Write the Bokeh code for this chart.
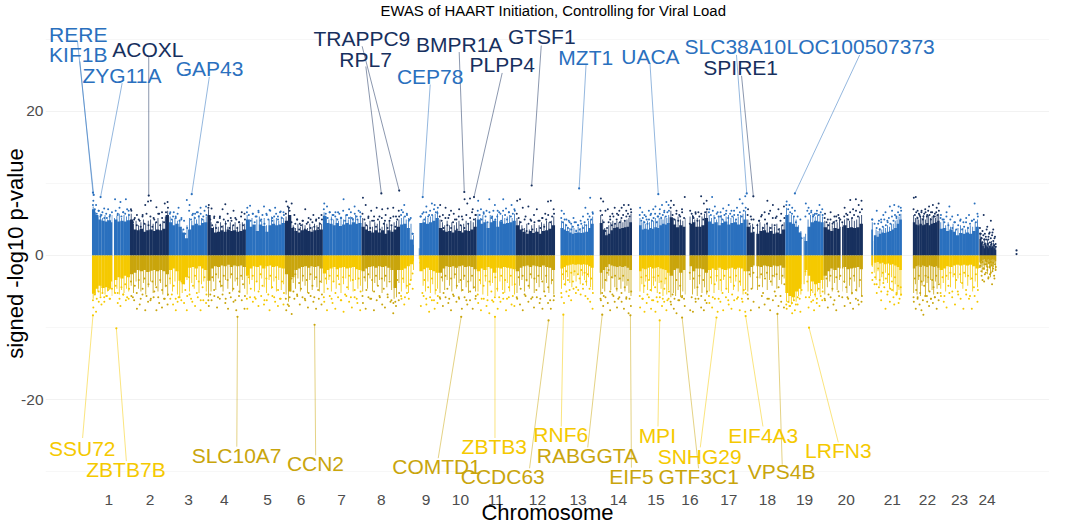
from bokeh.embed import file_html
from bokeh.resources import INLINE
from bokeh.plotting import figure
from bokeh.models import FixedTicker, Range1d
from bokeh.core.properties import value

TITLE = "EWAS of HAART Initiation, Controlling for Viral Load"
CHROM = [str(i) for i in range(1, 25)]
TICK_POS = [108.8,150,188.7,224.5,267.6,301.3,341.6,381.5,426.3,460.7,495.9,537.7,578.4,618.7,656.2,690.3,729.2,767.8,805,846.6,892.8,927.9,960,987.5]
START = [92,130,169,207.5,246,285,323,361.7,400.3,439,477,516,560.7,600,639.3,670,708.3,747,785.7,824,871.7,913.3,940,980]
END = [130,169,207.5,246,285,323,361.7,400.3,439,477,516,555.3,594,632.3,670,708.3,747,785.7,824,863.3,902.3,940,979.3,996.7]
GAPS = [(112.3,114),(414,419),(685.7,690),(755,756.7),(802,804),(841,842.5),(873.3,874.3)]
EXTRA_X = [1017,1017]
EXTRA_Y = [0.7,0.2]

UP_SOLID = [
[6.4,5.6,5.0,4.8,4.7,4.9,4.6,5.0,4.7,4.8,4.7,4.9],[5.0,3.6,3.5,3.7,3.3,3.5,3.6,3.4,3.6,3.5,3.7,5.6],
[4.6,4.2,4.4,4.0,3.2,2.4,3.6,4.2,4.4,4.2,4.5,4.6],[5.6,3.8,3.2,3.3,3.5,3.3,3.6,3.4,3.5,3.3,3.4,3.6],
[5.0,4.0,4.3,3.4,4.3,4.1,3.3,4.2,4.4,4.2,4.3,4.5],[4.8,5.6,3.8,3.4,3.2,3.5,3.6,3.4,3.3,3.5,3.6,3.6],
[5.5,4.5,4.4,4.2,4.5,4.1,4.3,4.5,4.3,4.6,4.4,4.5],[4.0,3.6,3.4,3.2,3.5,3.2,3.5,3.0,3.5,3.3,3.6,4.0],
[4.3,4.4,3.8,2.2,1.5,1.0,4.5,4.6,4.4,4.6,4.8,5.2],[3.8,3.5,3.3,3.4,3.2,3.5,3.4,3.2,3.5,3.4,3.6,4.0],
[5.0,4.4,4.6,3.8,4.6,4.8,4.0,4.7,4.4,4.5,4.6,4.8],[4.2,3.6,3.3,3.0,3.4,3.1,3.3,3.0,3.4,3.5,3.7,4.2],
[3.8,3.6,3.4,3.2,3.0,3.1,3.2,3.1,3.2,3.3,3.8,4.4],[4.5,3.6,2.8,3.0,3.5,3.8,3.9,3.7,3.8,3.9,4.0,4.6],
[4.2,3.6,3.7,3.6,3.8,3.7,3.9,3.8,4.2,4.4,4.3,4.5],[5.3,4.3,3.9,4.2,4.0,3.8,4.4,4.6,4.0,4.0,4.2,5.2],
[4.7,4.4,4.6,4.2,4.5,4.7,4.3,4.5,4.6,4.3,4.5,5.0],[4.0,3.2,3.3,3.0,3.4,3.5,3.2,3.4,3.0,3.2,3.0,3.6],
[5.6,4.6,4.4,4.0,3.2,2.6,2.0,4.0,4.6,4.8,4.7,4.6],[3.9,3.6,3.4,3.8,3.7,4.0,4.2,3.8,3.9,3.8,3.9,4.4],
[3.6,2.8,2.6,3.0,3.2,3.1,3.3,3.4,3.6,3.8,4.4,5.0],[4.6,4.3,4.2,4.4,4.2,4.3,4.5,4.2,4.4,4.5,4.6,4.8],
[3.7,3.8,3.4,3.6,3.3,2.8,3.1,3.0,3.2,3.0,3.4,4.0],[2.3,1.8,1.3,1.0,1.5,1.2,1.0,1.3,1.1,1.2,1.0,0.8]]

LOW_SOLID = [
[-5.3,-4.6,-4.2,-4.5,-4.4,-4.6,-3.6,-3.4,-3.0,-3.2,-2.8,-3.0],[-2.6,-2.4,-2.0,-2.2,-2.0,-2.3,-2.1,-2.0,-2.2,-2.0,-2.2,-2.6],
[-2.0,-1.8,-2.2,-3.5,-4.0,-3.0,-1.7,-1.6,-1.8,-1.5,-1.8,-2.0],[-3.5,-1.8,-1.5,-1.6,-1.4,-1.5,-1.3,-1.6,-1.4,-1.5,-1.4,-1.6],
[-2.8,-1.8,-1.5,-1.6,-1.4,-1.8,-1.5,-1.4,-1.6,-1.5,-1.7,-1.8],[-2.6,-5.0,-3.0,-2.0,-1.8,-1.6,-1.5,-1.7,-1.5,-1.6,-1.5,-1.8],
[-2.5,-2.0,-1.8,-1.6,-1.9,-1.7,-1.6,-1.8,-1.7,-1.6,-1.9,-2.0],[-2.2,-1.8,-1.6,-1.5,-1.7,-1.5,-1.6,-1.5,-1.7,-2.0,-4.5,-2.0],
[-2.0,-1.8,-1.5,-1.2,-0.8,-0.5,-2.2,-1.9,-1.7,-2.0,-2.2,-2.4],[-2.4,-1.8,-1.5,-1.6,-1.5,-1.7,-1.5,-1.4,-1.6,-1.5,-1.6,-1.9],
[-2.2,-1.8,-2.0,-1.6,-1.8,-2.4,-1.7,-1.8,-1.6,-1.7,-1.8,-1.9],[-2.2,-1.7,-1.5,-1.4,-1.6,-1.4,-1.5,-1.6,-1.4,-1.6,-1.7,-2.0],
[-1.8,-1.6,-1.4,-1.3,-1.2,-1.3,-1.2,-1.3,-1.2,-1.3,-1.5,-1.7],[-2.4,-2.0,-1.6,-1.2,-1.4,-1.5,-1.6,-1.5,-1.6,-1.5,-1.7,-2.0],
[-2.2,-1.8,-1.9,-1.7,-1.6,-1.8,-1.7,-1.6,-1.8,-1.9,-2.0,-2.4],[-2.8,-2.0,-1.8,-2.4,-2.0,-1.7,-1.5,-2.2,-1.8,-1.8,-1.9,-2.4],
[-2.0,-1.8,-2.0,-1.7,-1.9,-2.0,-1.8,-1.7,-1.9,-1.7,-1.8,-2.2],[-2.2,-1.6,-1.4,-1.5,-1.6,-1.4,-1.5,-1.6,-1.4,-1.5,-1.4,-1.7],
[-5.2,-5.6,-5.8,-5.0,-4.6,-4.0,-2.0,-2.8,-3.6,-4.0,-3.8,-3.4],[-2.8,-2.2,-1.8,-2.0,-1.7,-1.8,-1.6,-1.9,-1.8,-1.7,-1.6,-1.9],
[-1.4,-1.0,-0.9,-1.1,-1.0,-1.2,-1.1,-1.3,-1.2,-1.4,-1.6,-2.0],[-1.8,-1.5,-1.4,-1.6,-1.4,-1.5,-1.6,-1.4,-1.5,-1.6,-1.5,-1.7],
[-2.0,-1.8,-1.5,-1.6,-1.4,-1.3,-1.4,-1.3,-1.4,-1.3,-1.5,-1.8],[-0.9,-0.8,-0.6,-0.5,-0.8,-0.6,-0.5,-0.7,-0.6,-0.5,-0.6,-0.8]]

UP_STREAK = [
[6.8,6.0,5.4,5.8,5.2,5.6,5.0,5.4,5.6,5.2,5.5,5.8,5.2,5.6,5.4,5.8],[5.8,4.4,4.8,4.2,4.6,5.0,4.4,4.8,5.0,4.4,4.6,5.2,4.4,4.8,5.4,6.2],
[5.4,5.0,5.2,4.8,5.0,3.6,2.8,4.2,5.2,4.8,5.4,5.0,5.6,5.2,5.0,5.4],[6.4,4.6,4.0,4.4,4.0,4.6,4.2,4.8,4.0,4.6,4.2,4.6,4.0,4.4,4.6,4.4],
[5.6,5.0,5.2,4.2,5.0,5.4,4.8,5.2,4.2,5.0,5.4,5.0,5.2,4.8,5.4,5.2],[5.4,6.6,4.8,4.2,3.8,4.4,4.0,4.4,4.2,3.8,4.4,4.0,4.4,4.2,4.6,4.4],
[6.0,5.4,5.0,5.4,5.0,5.2,4.8,5.4,5.0,5.6,5.0,5.4,5.2,5.6,5.0,5.4],[5.2,4.6,4.2,4.8,4.0,4.6,4.4,4.8,4.0,4.6,4.4,4.8,4.2,4.6,4.8,5.0],
[5.2,5.4,5.0,5.2,4.4,2.8,1.8,1.5,1.2,5.0,5.4,5.2,5.4,5.6,5.8,6.2],[5.0,4.6,4.2,4.8,4.2,4.6,4.2,4.6,4.8,4.2,4.4,4.8,4.4,4.8,4.6,5.2],
[5.8,5.2,5.6,5.0,4.6,5.6,5.4,5.0,5.8,4.8,5.6,5.2,5.4,5.6,5.2,5.8],[5.2,4.8,4.2,3.8,4.4,3.6,4.2,4.4,3.8,4.2,4.6,4.4,4.8,4.6,4.8,5.4],
[4.8,4.6,4.4,4.0,3.8,4.2,3.8,3.6,4.0,3.8,4.2,4.4,4.2,4.8,5.0,5.4],[5.6,5.0,3.8,3.6,4.2,4.6,4.8,4.4,4.8,4.6,5.0,4.6,4.8,5.0,5.2,5.8],
[5.2,4.6,4.8,4.4,4.8,4.6,5.0,4.8,5.2,4.8,5.2,5.4,5.0,5.4,5.2,5.6],[6.2,5.2,5.0,5.4,5.0,4.8,5.2,4.6,5.4,5.6,5.0,5.2,5.0,5.4,5.8,6.2],
[5.6,5.2,5.6,5.0,5.4,5.6,5.0,5.4,5.6,5.2,5.4,5.0,5.4,5.6,5.8,6.2],[5.0,4.2,4.4,3.8,4.4,4.6,4.0,4.4,4.6,4.0,4.4,4.0,4.4,3.8,4.2,4.6],
[6.6,5.8,5.6,5.4,5.0,4.2,3.4,2.6,3.0,5.0,5.6,5.8,5.4,5.6,5.8,5.4],[4.8,4.4,4.6,4.2,4.8,4.6,5.0,4.6,5.0,5.2,4.8,5.2,4.8,5.0,5.4,5.6],
[4.6,2.0,3.6,3.4,3.8,3.6,4.0,3.8,4.2,4.0,4.4,4.4,4.8,5.0,5.4,5.8],[5.6,5.2,5.4,5.0,5.4,5.2,5.6,5.0,5.4,5.6,5.2,5.4,5.6,5.2,5.6,5.8],
[4.6,4.8,4.2,4.6,4.0,4.4,3.6,3.8,4.2,3.8,3.6,4.0,4.2,4.0,4.6,5.0],[3.2,2.6,2.0,1.6,2.4,1.8,1.4,2.2,1.8,1.4,1.6,2.0,1.4,1.8,1.6,1.2]]

LOW_STREAK = [
[-6.0,-5.4,-5.0,-5.6,-5.2,-5.4,-5.0,-4.8,-5.6,-5.2,-4.6,-5.4,-4.8,-5.2,-4.6,-5.0],[-4.2,-5.2,-3.6,-4.6,-5.0,-3.8,-5.4,-4.4,-3.6,-5.2,-4.2,-5.0,-3.8,-5.4,-4.4,-5.6],
[-4.0,-5.0,-3.6,-5.4,-5.8,-5.2,-4.0,-3.4,-5.0,-3.8,-4.6,-3.4,-5.2,-4.0,-3.6,-5.0],[-5.8,-5.0,-3.6,-4.8,-3.2,-4.4,-5.0,-3.4,-4.6,-3.2,-5.0,-3.6,-4.2,-5.2,-3.4,-4.6],
[-5.4,-4.0,-3.4,-5.0,-3.6,-4.8,-3.2,-4.4,-5.2,-3.4,-4.6,-3.6,-5.0,-3.4,-4.8,-4.0],[-5.4,-6.4,-5.0,-3.8,-4.6,-3.2,-5.0,-3.6,-4.2,-5.2,-3.4,-4.8,-3.4,-4.4,-5.0,-3.8],
[-5.2,-4.0,-3.4,-5.0,-3.6,-4.6,-3.4,-5.2,-4.0,-3.2,-4.8,-3.6,-5.0,-3.4,-4.6,-4.2],[-5.0,-3.6,-4.6,-3.2,-5.0,-3.8,-4.2,-3.4,-5.2,-3.6,-4.4,-3.4,-4.8,-6.0,-5.8,-3.8],
[-5.0,-3.8,-4.6,-5.2,-3.4,-2.0,-1.2,-1.0,-0.8,-4.2,-5.0,-3.6,-5.2,-4.0,-5.4,-4.6],[-5.2,-3.6,-4.8,-3.4,-4.2,-5.0,-3.2,-4.6,-3.8,-5.0,-3.4,-4.4,-5.2,-3.6,-4.6,-5.0],
[-5.0,-4.0,-5.4,-3.6,-5.6,-4.2,-3.8,-5.6,-5.0,-3.6,-4.8,-5.2,-3.8,-5.0,-4.2,-5.4],[-5.2,-4.2,-3.4,-5.0,-3.6,-4.6,-3.2,-5.2,-3.8,-4.4,-3.4,-5.0,-3.8,-5.2,-4.0,-5.4],
[-4.6,-3.4,-4.2,-3.0,-3.8,-4.4,-2.8,-3.6,-2.6,-4.0,-2.8,-3.4,-4.2,-3.0,-4.4,-4.8],[-5.4,-4.6,-5.0,-3.6,-2.8,-4.8,-3.2,-4.4,-5.0,-3.4,-4.6,-3.6,-5.0,-4.2,-5.2,-5.6],
[-5.0,-4.0,-5.2,-3.6,-4.8,-3.4,-5.0,-4.2,-3.6,-5.2,-3.8,-4.6,-5.6,-4.0,-5.4,-4.8],[-5.8,-5.2,-5.6,-4.8,-5.8,-5.0,-5.4,-3.6,-3.4,-5.4,-4.6,-5.6,-4.0,-5.2,-4.4,-5.4],
[-5.0,-4.0,-5.2,-3.6,-4.8,-5.0,-3.4,-4.6,-5.2,-3.8,-4.8,-3.6,-5.0,-4.2,-5.4,-4.8],[-5.0,-3.0,-4.6,-3.4,-4.8,-3.2,-4.4,-3.0,-4.8,-3.4,-4.2,-3.0,-4.6,-3.4,-4.0,-3.2],
[-6.4,-6.6,-6.8,-6.2,-6.4,-5.6,-5.4,-3.0,-2.8,-5.0,-5.6,-5.2,-5.8,-5.0,-5.4,-4.6],[-5.4,-4.4,-3.6,-5.0,-3.8,-4.8,-3.4,-5.0,-3.8,-5.2,-4.2,-5.4,-3.6,-5.0,-4.4,-5.6],
[-1.6,-2.4,-3.4,-2.2,-4.2,-3.0,-3.6,-2.4,-3.8,-4.6,-3.0,-5.0,-4.0,-5.4,-4.8,-5.6],[-5.2,-4.0,-5.4,-3.4,-5.6,-4.2,-3.6,-5.6,-3.8,-5.0,-3.4,-4.8,-5.4,-3.6,-4.6,-3.8],
[-4.6,-3.8,-5.0,-3.4,-4.4,-3.0,-4.6,-3.2,-3.8,-4.6,-3.0,-4.2,-3.4,-5.0,-3.6,-4.4],[-1.0,-1.6,-2.4,-1.4,-2.0,-1.0,-1.6,-2.6,-1.2,-1.8,-3.0,-1.4,-2.2,-1.6,-1.0,-2.0]]

UP_PTS = [
[7.6,7.0,6.2,5.6,6.5,5.2,5.4,6.6,7.8,5.8,7.4,6.0,7.8,6.2],[6.2,5.0,5.6,4.8,5.4,7.0,7.5,7.6,5.2,6.7,5.8,6.0,7.2,7.4],
[6.0,5.4,5.2,6.6,5.0,4.8,7.7,7.0,5.6,5.8,6.0,6.6,5.4,6.8],[7.0,6.5,5.4,4.6,5.2,6.4,7.1,4.8,5.2,6.2,5.0,4.6,6.0,5.8],
[6.6,6.9,5.8,5.4,6.2,5.0,6.8,5.6,6.3,5.2,6.6,5.4,6.1,6.0],[7.5,6.6,7.2,5.6,5.0,4.4,4.8,6.4,4.6,5.0,5.6,4.8,5.2,5.6],
[7.2,6.8,6.0,5.6,5.4,6.0,5.2,7.8,5.6,6.4,5.2,6.8,5.0,6.0],[8.0,7.0,5.4,6.2,4.8,6.6,5.4,6.4,4.8,6.5,5.2,6.6,5.4,6.2],
[6.3,7.0,5.6,5.0,3.0,3.0,7.0,5.4,6.0,6.8,5.6,7.2,7.0,5.9],[7.0,5.6,6.6,5.2,6.2,5.8,5.0,6.4,5.4,7.8,7.2,7.9,6.4,5.6],
[7.6,6.4,5.8,6.2,7.8,5.4,7.0,6.2,5.8,7.8,6.5,6.0,7.0,6.4],[7.6,7.8,6.6,5.4,6.8,4.8,5.6,6.4,4.8,5.2,5.8,7.5,7.6,6.4],
[6.2,5.8,5.0,4.8,4.4,5.2,4.6,4.2,4.8,5.4,6.6,5.8,8.0,6.0],[7.9,7.5,6.2,6.4,5.4,5.8,6.6,5.8,6.2,6.6,7.0,6.2,7.0,6.4],
[6.6,6.0,5.6,5.0,6.2,5.8,6.4,6.8,5.4,6.4,7.0,6.0,7.4,7.0],[7.6,7.0,6.2,5.6,6.4,8.1,6.0,6.2,5.4,5.8,6.0,8.2,7.2,7.6],
[6.4,8.1,6.8,6.0,5.4,6.5,5.8,7.0,6.2,5.6,6.6,7.8,7.2,8.2],[6.4,5.4,5.0,6.2,4.8,5.6,6.0,7.6,6.2,7.0,5.2,6.4,5.8,6.8],
[7.5,7.0,6.6,6.2,5.4,5.0,5.8,7.2,6.6,6.2,5.6,5.8,7.0,6.4],[5.8,5.0,6.0,4.6,5.4,5.2,6.0,6.6,5.6,7.7,6.4,7.8,7.0,7.6],
[5.0,4.4,6.2,4.8,5.0,5.6,6.0,4.6,6.8,6.2,7.0,5.4,6.8,6.6],[8.0,8.1,6.2,5.6,6.0,5.4,6.4,5.6,6.8,6.0,7.0,5.4,6.6,7.2],
[5.6,5.0,6.0,6.8,5.4,4.6,5.6,5.0,4.6,5.2,5.6,4.8,7.2,5.8],[3.0,2.4,3.4,5.6,3.0,2.2,4.0,2.6,3.2,4.8,2.8,3.6,2.4,1.6]]

LOW_PTS = [
[-7.2,-7.8,-6.4,-6.8,-5.8,-5.6,-6.0,-7.0,-5.2,-6.6,-7.0,-5.4,-6.2,-6.0],[-5.6,-6.2,-7.4,-6.8,-5.4,-7.6,-6.4,-6.0,-5.8,-7.6,-6.6,-7.2,-6.0,-6.8],
[-6.0,-6.8,-7.6,-5.8,-6.2,-6.6,-7.6,-5.4,-6.4,-7.0,-5.8,-7.6,-6.2,-6.6],[-7.0,-6.2,-5.6,-7.2,-6.0,-5.4,-6.6,-7.4,-5.8,-6.4,-7.6,-5.6,-6.2,-7.4],
[-7.4,-5.8,-6.4,-6.0,-7.0,-5.6,-6.8,-6.2,-7.6,-5.6,-6.4,-7.0,-6.0,-6.8],[-7.6,-7.0,-8.1,-6.0,-5.4,-6.8,-5.8,-6.2,-7.2,-5.6,-6.4,-7.4,-6.0,-6.8],
[-6.4,-7.6,-5.6,-6.6,-7.4,-5.8,-6.2,-7.8,-5.6,-6.4,-7.2,-5.8,-6.6,-7.6],[-6.6,-7.4,-5.8,-6.0,-7.6,-6.2,-5.6,-6.8,-7.2,-5.8,-6.4,-8.0,-7.0,-6.2],
[-6.0,-6.8,-5.2,-4.0,-2.5,-2.5,-6.2,-7.0,-5.6,-6.8,-7.8,-6.2,-7.4,-6.6],[-6.0,-7.0,-5.8,-6.6,-7.6,-5.6,-6.4,-6.0,-7.4,-5.8,-6.8,-6.2,-7.4,-6.0],
[-6.6,-7.6,-6.0,-7.0,-8.0,-6.2,-5.8,-7.4,-6.4,-6.0,-7.6,-5.8,-6.8,-7.0],[-6.0,-6.8,-7.6,-5.6,-6.4,-6.0,-7.2,-5.8,-6.6,-7.4,-5.6,-6.6,-7.4,-6.2],
[-5.8,-6.6,-5.0,-5.6,-6.2,-4.6,-5.2,-4.8,-5.4,-4.6,-5.6,-6.0,-6.4,-7.4],[-6.2,-7.0,-5.8,-6.6,-7.6,-5.4,-6.4,-7.2,-5.8,-6.4,-7.4,-6.0,-8.0,-7.0],
[-7.2,-6.0,-7.8,-6.6,-5.8,-7.4,-6.2,-7.8,-6.4,-5.8,-7.0,-6.4,-7.6,-6.0],[-6.8,-7.4,-8.0,-6.2,-5.8,-7.0,-6.0,-7.6,-7.8,-6.4,-6.0,-7.2,-7.6,-6.6],
[-6.6,-7.2,-6.0,-7.8,-6.4,-7.6,-5.8,-6.8,-7.4,-6.2,-6.0,-7.6,-6.4,-7.8],[-6.0,-7.6,-6.4,-5.8,-7.2,-5.6,-6.8,-6.0,-7.6,-6.2,-5.6,-7.0,-6.4,-7.2],
[-7.4,-7.0,-8.0,-7.6,-6.8,-7.8,-6.0,-5.8,-7.2,-6.4,-7.6,-6.6,-7.0,-6.2],[-6.2,-7.2,-5.8,-6.8,-7.6,-5.6,-6.4,-7.0,-5.8,-6.6,-7.4,-6.0,-6.8,-6.4],
[-3.4,-4.0,-5.2,-4.4,-6.2,-3.8,-7.4,-5.0,-6.4,-4.8,-6.8,-5.4,-6.6,-4.4],[-6.4,-7.4,-5.8,-6.8,-7.6,-8.2,-5.6,-6.4,-7.0,-6.0,-6.6,-5.8,-7.4,-6.2],
[-5.6,-6.4,-7.2,-5.2,-5.8,-6.8,-5.0,-6.0,-7.4,-5.4,-6.0,-7.4,-5.6,-6.4],[-1.4,-2.2,-3.4,-1.8,-2.6,-1.2,-2.0,-3.0,-1.6,-2.4,-4.0,-1.8,-3.2,-2.0]]

LOW_MID = [
[-6.2,-5.4,-6.0,-5.0,-5.8,-5.2,-6.4,-5.6,-4.8,-6.0,-4.6,-5.6,-4.2,-5.2,-6.0,-4.4,-5.4,-4.0,-5.8,-4.6],
[-3.6,-5.8,-4.2,-5.2,-3.4,-6.0,-4.6,-3.2,-5.6,-4.0,-6.2,-3.6,-5.0,-4.4,-5.8,-3.4,-4.8,-6.0,-4.2,-5.4],
[-3.2,-5.4,-4.2,-6.0,-6.4,-5.8,-3.6,-2.8,-4.8,-5.6,-3.0,-6.0,-4.2,-2.8,-5.2,-3.6,-6.2,-4.4,-3.0,-5.4],
[-6.2,-5.4,-3.0,-4.8,-2.6,-5.8,-3.6,-4.2,-2.8,-6.0,-3.4,-5.2,-2.6,-4.6,-6.2,-3.2,-5.0,-2.8,-4.0,-5.6],
[-6.0,-3.0,-4.6,-2.8,-5.8,-3.6,-5.0,-2.6,-4.2,-6.2,-3.2,-5.4,-2.8,-4.4,-5.8,-3.0,-4.8,-6.0,-3.6,-5.2],
[-6.0,-6.8,-5.8,-3.2,-5.0,-2.6,-5.6,-3.8,-4.6,-2.8,-6.0,-3.4,-5.2,-2.6,-4.2,-5.8,-3.0,-4.8,-3.6,-5.4],
[-5.8,-3.2,-4.6,-2.8,-6.0,-3.6,-5.2,-2.8,-4.0,-6.2,-3.0,-5.4,-4.4,-2.8,-5.8,-3.4,-4.8,-6.0,-3.2,-5.0],
[-5.6,-3.0,-4.8,-2.6,-6.0,-3.4,-5.0,-2.8,-4.2,-5.8,-3.2,-4.6,-2.8,-5.4,-3.6,-6.2,-6.6,-6.4,-3.4,-5.2],
[-5.6,-3.2,-5.8,-4.2,-6.0,-3.4,-4.6,-2.0,-1.6,-1.2,-1.0,-5.2,-3.4,-6.0,-4.4,-5.8,-3.2,-6.2,-4.8,-5.6],
[-5.8,-3.0,-5.2,-2.8,-4.6,-6.0,-3.2,-5.4,-2.6,-4.2,-5.8,-3.4,-4.8,-2.8,-6.2,-3.6,-5.0,-2.8,-4.4,-5.6],
[-5.4,-3.4,-6.0,-4.2,-2.8,-6.2,-3.6,-5.0,-6.4,-3.0,-4.6,-5.8,-2.8,-5.2,-3.4,-6.0,-4.4,-2.8,-5.6,-4.0],
[-5.8,-3.0,-4.6,-2.8,-5.4,-3.4,-4.2,-2.6,-5.8,-3.2,-4.8,-2.8,-6.0,-3.6,-5.0,-2.8,-4.4,-6.2,-3.4,-5.6],
[-5.2,-2.6,-4.0,-2.2,-3.4,-4.8,-2.4,-3.6,-2.2,-4.4,-2.6,-3.2,-2.0,-4.0,-2.4,-3.6,-2.6,-4.6,-3.2,-5.2],
[-6.0,-5.2,-5.6,-3.4,-2.4,-2.0,-5.0,-3.0,-5.6,-2.8,-4.6,-6.0,-3.2,-5.2,-2.8,-4.4,-5.8,-3.4,-6.0,-5.0],
[-5.6,-3.0,-6.0,-4.2,-2.8,-5.4,-3.4,-4.8,-6.2,-3.0,-4.4,-5.8,-2.8,-5.2,-3.6,-6.0,-4.6,-3.2,-6.2,-5.0],
[-6.4,-5.4,-6.0,-3.4,-6.2,-4.2,-5.6,-6.0,-3.0,-2.6,-2.4,-5.8,-3.2,-6.0,-4.4,-2.8,-5.6,-3.4,-6.2,-5.0],
[-5.6,-3.0,-5.8,-4.0,-2.8,-6.0,-3.4,-5.2,-2.8,-4.6,-6.2,-3.0,-5.4,-4.2,-2.8,-5.8,-3.6,-6.0,-4.8,-5.2],
[-5.4,-2.6,-4.6,-2.4,-5.8,-3.0,-4.2,-2.6,-5.2,-3.2,-2.4,-6.0,-3.6,-2.8,-5.0,-2.6,-4.4,-5.6,-2.8,-4.0],
[-6.8,-6.4,-7.0,-6.6,-6.2,-6.8,-5.8,-6.0,-4.8,-2.6,-2.2,-3.6,-5.8,-4.8,-6.2,-5.4,-6.0,-4.6,-5.6,-5.0],
[-6.0,-3.2,-5.4,-2.8,-4.6,-6.2,-3.0,-5.0,-2.8,-5.8,-3.6,-4.4,-6.0,-3.2,-5.2,-2.8,-4.8,-6.2,-3.4,-5.6],
[-2.4,-1.4,-3.0,-4.0,-1.8,-3.4,-5.0,-2.4,-4.4,-3.2,-5.4,-2.6,-4.6,-3.6,-5.8,-3.0,-5.2,-4.2,-6.0,-5.4],
[-5.8,-3.2,-4.8,-6.0,-2.8,-5.2,-3.6,-6.2,-4.2,-2.8,-5.6,-3.0,-5.0,-6.0,-3.4,-4.4,-5.8,-2.8,-5.2,-4.0],
[-5.2,-3.0,-5.6,-2.8,-4.2,-2.4,-5.0,-2.6,-3.4,-5.4,-2.6,-3.8,-2.4,-4.8,-2.8,-5.6,-3.2,-4.4,-2.6,-4.8],
[-1.6,-1.0,-2.8,-0.9,-1.8,-3.6,-1.2,-2.4,-0.8,-1.6,-3.2,-1.0,-2.6,-0.9,-1.4,-2.2,-1.0,-2.8,-1.2,-1.6]]

UP_MID = [
[7.0,6.4,5.8,6.2,5.4,6.0,5.2,5.8,6.4,5.6,6.0,5.4,6.2,5.6,6.6,5.4,6.0,5.8,6.4,5.6],
[6.4,4.6,5.2,4.2,5.0,4.0,5.6,4.4,5.8,4.2,5.4,4.0,5.0,4.6,5.8,4.2,5.2,4.6,6.0,6.6],
[5.8,5.0,6.0,5.4,5.8,4.8,5.2,3.6,3.0,3.8,6.2,5.0,5.8,5.2,6.0,5.4,5.8,5.0,6.2,5.6],
[6.6,5.0,4.2,5.2,3.8,4.6,5.4,4.0,5.0,4.4,5.8,3.8,4.8,4.2,5.2,3.8,4.6,5.4,4.2,5.0],
[6.0,5.6,4.8,5.8,4.6,5.4,6.0,4.8,5.6,4.4,5.8,5.0,6.2,4.8,5.4,5.8,5.0,6.0,5.2,5.6],
[5.8,6.8,6.2,4.6,3.8,4.4,5.0,3.6,4.2,4.8,3.6,4.4,5.2,3.8,4.6,4.0,5.0,3.8,4.4,5.0],
[6.4,5.8,5.2,6.0,5.0,5.6,6.0,5.0,5.8,5.2,6.2,4.8,5.6,5.2,6.0,5.0,5.8,5.4,6.2,5.4],
[5.8,5.0,4.2,5.2,3.8,4.8,5.4,4.0,5.0,3.6,5.2,4.4,5.6,3.8,4.8,4.2,5.4,4.0,5.0,5.4],
[5.6,6.0,5.4,5.8,4.8,5.2,3.0,2.2,1.8,1.6,5.4,5.8,5.0,6.0,5.4,6.2,5.6,6.4,6.0,6.6],
[5.4,4.8,3.8,5.2,4.2,5.6,3.8,4.6,5.0,3.6,5.4,4.2,5.0,3.8,5.6,4.4,5.2,6.0,5.0,5.6],
[6.2,5.6,5.0,6.0,5.4,4.6,6.0,5.2,6.2,5.0,5.4,6.0,4.8,6.2,5.6,5.0,6.0,5.4,5.8,6.2],
[5.8,5.2,4.6,3.6,5.0,3.4,4.4,5.0,3.6,4.6,3.2,4.8,3.8,5.2,4.0,5.0,5.6,4.6,5.4,5.8],
[5.2,4.6,5.0,4.2,3.8,4.6,3.6,4.0,4.6,3.4,4.2,3.6,4.4,3.8,4.6,4.2,5.0,5.4,5.0,5.8],
[6.2,5.6,4.6,3.4,3.8,4.6,5.0,4.2,5.4,4.4,5.0,5.6,4.6,5.2,5.6,4.8,5.4,5.8,5.4,6.0],
[5.6,4.8,5.2,4.6,5.4,4.4,5.0,5.6,4.8,5.2,5.8,4.6,5.4,5.8,5.2,5.6,6.2,5.4,6.0,6.2],
[6.6,5.6,5.0,5.8,4.8,5.4,6.0,5.2,5.6,4.8,4.4,5.8,5.2,6.0,4.8,5.4,5.8,5.0,6.0,6.4],
[6.0,5.6,6.2,5.2,5.8,5.4,6.0,5.0,5.6,6.2,5.2,5.8,5.4,6.2,5.0,5.6,6.0,5.4,6.2,6.6],
[5.6,4.4,5.0,3.8,5.2,4.2,4.8,5.4,3.8,5.0,4.4,5.8,3.8,5.2,4.2,5.4,3.6,4.8,4.2,5.2],
[7.0,6.4,6.0,5.8,5.4,4.6,3.8,3.0,2.4,2.6,5.4,6.2,5.8,6.0,5.4,5.8,6.2,5.6,6.0,5.6],
[5.2,4.6,4.2,5.0,4.4,5.4,4.8,5.6,5.0,4.6,5.4,5.8,5.0,6.0,5.2,5.6,6.2,5.4,6.0,6.4],
[5.0,2.4,1.6,3.8,4.4,3.6,4.6,4.0,5.0,4.2,4.8,5.2,4.4,5.4,4.8,5.6,5.2,6.0,5.6,6.2],
[6.4,5.6,6.0,5.2,5.8,5.4,6.2,5.0,5.8,6.0,5.4,6.2,5.6,5.0,6.0,5.4,5.8,6.0,5.6,6.2],
[5.2,5.0,4.6,5.4,4.2,5.0,3.8,4.6,3.6,4.2,4.8,3.6,4.0,4.6,3.8,4.4,4.8,5.0,4.6,5.4],
[3.8,3.0,2.4,1.8,2.8,2.2,1.6,2.6,3.6,1.6,2.2,3.0,1.8,2.4,1.6,3.2,2.0,1.4,2.6,1.2]]

GENES_UP = ["RERE","KIF1B","ZYG11A","ACOXL","GAP43","TRAPPC9","RPL7","CEP78","BMPR1A","PLPP4","GTSF1","MZT1","UACA","SLC38A10","SPIRE1","LOC100507373"]
GU_TONE = ["b","b","b","n","b","n","n","b","n","n","n","b","b","b","n","b"]
GU_LX = [78.3,78.3,122,148,209.7,362,365.7,430.4,459.4,502.4,542,586,650.7,735.7,741,861]
GU_LY = [30.7,27.9,25.0,28.6,25.9,30.1,27.2,24.75,29.3,26.5,30.3,27.5,27.6,29.0,26.0,28.9]
GU_X0 = [77.5,79.9,122.2,148.8,209.4,362.3,366,430.4,459.4,502.4,541.5,586.3,650.3,736.8,741.9,860.1]
GU_Y0 = [29.7,26.9,23.9,27.6,24.75,29.0,26.2,23.7,28.2,25.3,29.1,26.4,26.6,27.8,24.9,27.8]
GU_X1 = [93.7,93,100.6,148.8,191.8,399.4,381.5,422.9,464.5,474.2,531.9,579.4,658.6,747.1,753.7,795.3]
GU_Y1 = [8.4,8.7,8.1,8.3,8.5,9.0,8.6,8.1,8.8,8.1,9.7,9.3,8.5,8.6,8.2,8.6]

GENES_LOW = ["SSU72","ZBTB7B","SLC10A7","CCN2","COMTD1","ZBTB3","CCDC63","RNF6","RABGGTA","EIF5","MPI","SNHG29","GTF3C1","EIF4A3","VPS4B","LRFN3"]
GL_TONE = ["y","y","d","d","d","y","d","y","d","d","y","y","d","y","d","y"]
GL_LX = [82.3,126,236.7,315.6,436.8,494.5,503,561,587.7,631.7,657.6,700,699,763.6,782,838.7]
GL_LY = [-26.8,-29.65,-27.7,-28.8,-29.3,-26.5,-30.6,-24.8,-27.75,-30.6,-24.9,-27.8,-30.6,-24.9,-30.0,-27.1]
GL_X0 = [82.6,126.4,236.9,315.8,438.4,495.2,529.8,561.5,588,631.7,658.3,700.6,698.9,763.3,782.6,838.7]
GL_Y0 = [-25.3,-28.5,-26.5,-27.7,-28.1,-25.3,-29.5,-23.7,-26.6,-29.4,-23.7,-26.6,-29.5,-23.7,-29.0,-25.9]
GL_X1 = [93,116.4,237.6,314.7,461.4,495.2,548.8,563.6,602.5,630.7,660,716.8,682.4,746,777.8,809.4]
GL_Y1 = [-8.3,-10.1,-8.5,-9.6,-8.5,-8.5,-9.0,-8.2,-8.2,-8.3,-9.0,-8.6,-8.6,-8.4,-8.1,-10.0]

TONES = {"b": "#2A70BE", "n": "#17305E", "y": "#F5C900", "d": "#C9A50C"}
FONT = "Liberation Sans"


def in_gap(x):
    return any(a <= x <= b for a, b in GAPS)


def cut(a, b):
    parts = [(a, b)]
    for g0, g1 in GAPS:
        out = []
        for s, e in parts:
            if e <= g0 or s >= g1:
                out.append((s, e))
            else:
                if s < g0:
                    out.append((s, g0))
                if e > g1:
                    out.append((g1, e))
        parts = out
    return parts


solid = dict(left=[], right=[], top=[], bottom=[], color=[])
thin = dict(left=[], right=[], top=[], bottom=[], color=[])
pts = dict(x=[], y=[], color=[])


def add_bins(store, i, values, tone, half_w):
    w = (END[i] - START[i]) / len(values)
    for k, v in enumerate(values):
        c = START[i] + (k + 0.5) * w
        half = half_w if half_w else w / 2 + 0.08
        for s, e in cut(max(c - half, START[i]), min(c + half, END[i])):
            store["left"].append(s)
            store["right"].append(e)
            store["top"].append(max(v, 0))
            store["bottom"].append(min(v, 0))
            store["color"].append(TONES[tone])


def add_pts(i, values, tone):
    w = (END[i] - START[i]) / len(values)
    for k, v in enumerate(values):
        x = START[i] + (k + 0.5) * w
        if not in_gap(x):
            pts["x"].append(x)
            pts["y"].append(v)
            pts["color"].append(TONES[tone])


for i in range(24):
    top_tone = "b" if i % 2 == 0 else "n"
    low_tone = "y" if i % 2 == 0 else "d"
    add_bins(thin, i, UP_STREAK[i], top_tone, 0.4)
    add_bins(thin, i, LOW_STREAK[i], low_tone, 0.4)
    add_bins(solid, i, UP_SOLID[i], top_tone, 0)
    add_bins(solid, i, LOW_SOLID[i], low_tone, 0)
    add_pts(i, UP_PTS[i], top_tone)
    add_pts(i, LOW_PTS[i], low_tone)
    add_pts(i, UP_MID[i], top_tone)
    add_pts(i, LOW_MID[i], low_tone)

p = figure(width=1049, height=528, output_backend="svg", toolbar_location=None,
           x_range=Range1d(45.5, 1050), y_range=Range1d(-32.3, 32.85),
           title=TITLE, min_border_left=39, min_border_right=0, min_border_top=16, min_border_bottom=40)
p.outline_line_color = None
p.background_fill_color = "white"
p.title.align = "left"
p.title.offset = 335
p.title.text_font = FONT
p.title.text_font_size = "14.9px"
p.title.text_font_style = "normal"
p.title.text_color = "#000000"
p.title.text_line_height = 1.0
p.title.standoff = 0

p.xgrid.visible = False
p.ygrid.grid_line_color = "#F2F2F2"
p.ygrid.minor_grid_line_color = "#F7F7F7"
p.ygrid.grid_line_width = 1
p.yaxis.ticker = FixedTicker(ticks=[-20, 0, 20], minor_ticks=[-30, -10, 10, 30])
p.yaxis.major_label_overrides = {-20: "-20", 0: "0", 20: "20"}
p.xaxis.ticker = FixedTicker(ticks=TICK_POS)
p.xaxis.major_label_overrides = {t: c for t, c in zip(TICK_POS, CHROM)}
for ax in (p.xaxis[0], p.yaxis[0]):
    ax.axis_line_color = None
    ax.major_tick_line_color = None
    ax.minor_tick_line_color = None
    ax.major_tick_in = 0
    ax.major_tick_out = 0
    ax.minor_tick_in = 0
    ax.minor_tick_out = 0
    ax.major_label_text_font = FONT
    ax.major_label_text_font_size = "15.5px"
    ax.major_label_text_color = "#4D4D4D"
    ax.axis_label_text_font = FONT
    ax.axis_label_text_font_style = "normal"
    ax.axis_label_text_font_size = "22px"
    ax.axis_label_text_color = "#000000"
p.xaxis.axis_label = "Chromosome"
p.yaxis.axis_label = "signed -log10 p-value"
p.xaxis.major_label_standoff = 6
p.yaxis.major_label_standoff = 2
p.xaxis.axis_label_standoff = -8
p.yaxis.axis_label_standoff = -10

p.quad(left="left", right="right", top="top", bottom="bottom", color="color", line_color=None, source=thin)
p.quad(left="left", right="right", top="top", bottom="bottom", color="color", line_color=None, source=solid)
p.scatter(x="x", y="y", color="color", size=2.0, line_color=None, source=pts)
p.scatter(x=EXTRA_X, y=EXTRA_Y, size=2.2, color=TONES["n"], line_color=None)

for names, tone, lx, ly, x0, y0, x1, y1 in (
    (GENES_UP, GU_TONE, GU_LX, GU_LY, GU_X0, GU_Y0, GU_X1, GU_Y1),
    (GENES_LOW, GL_TONE, GL_LX, GL_LY, GL_X0, GL_Y0, GL_X1, GL_Y1),
):
    cols = [TONES[t] for t in tone]
    p.segment(x0=x0, y0=y0, x1=x1, y1=y1, color=cols, line_width=1, line_alpha=0.5)
    p.scatter(x=x1, y=y1, color=cols, size=2.2, line_color=None)
    p.text(x=lx, y=ly, text=names, text_color=cols, text_font=value(FONT), text_font_size="21px",
           text_align="center", text_baseline="middle")

open("out.html", "w").write(file_html(p, INLINE))
